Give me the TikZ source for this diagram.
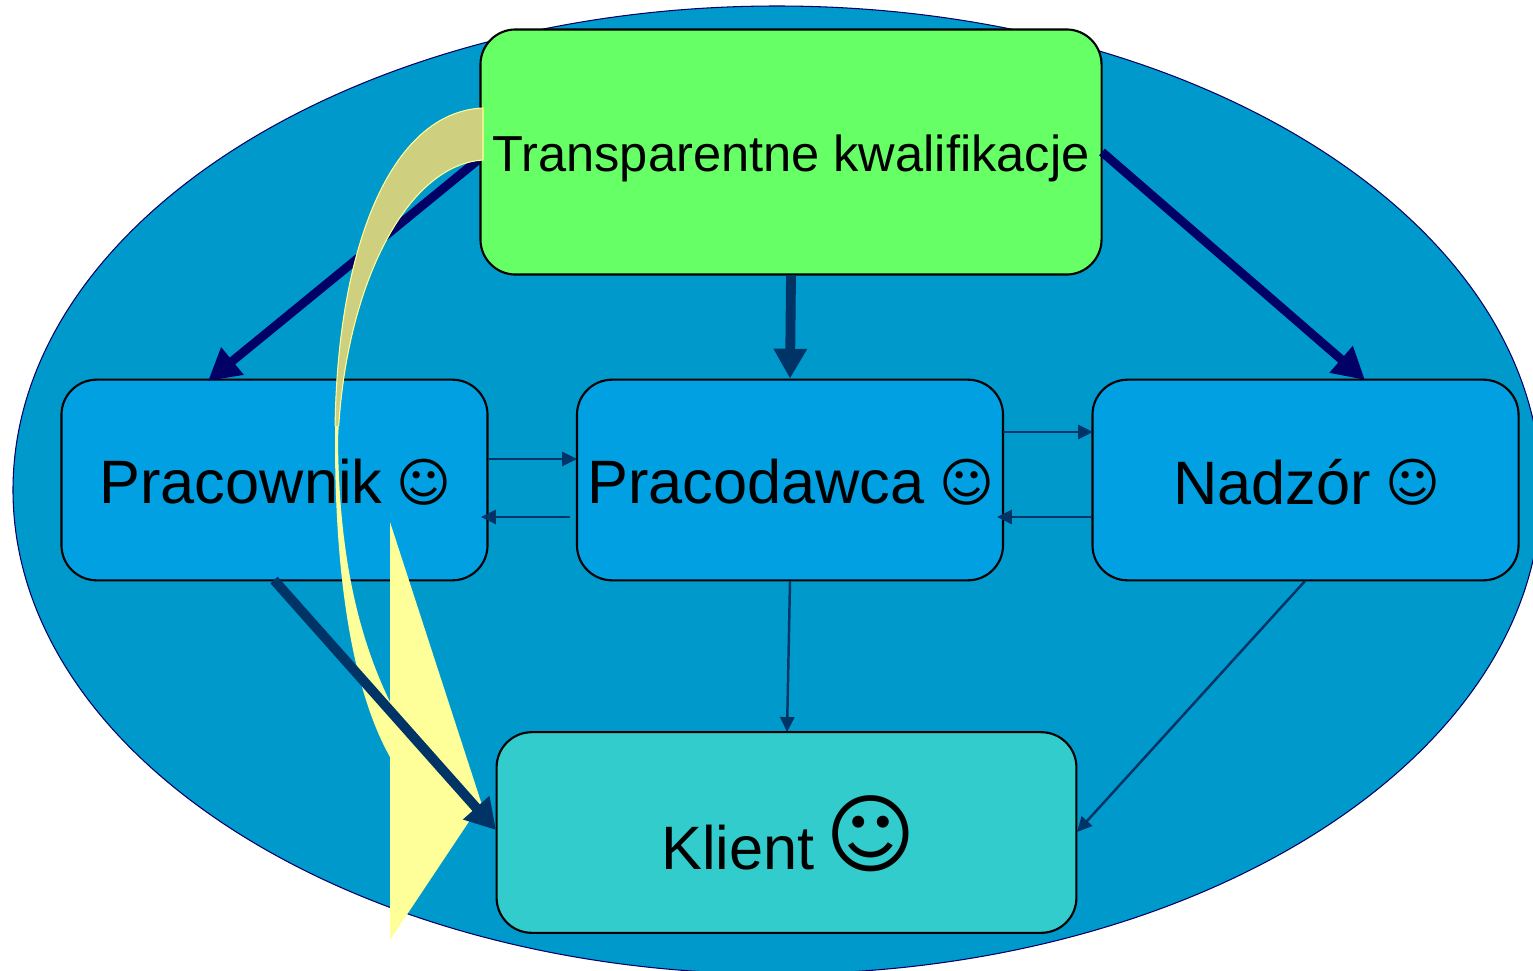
\documentclass[tikz,border=0pt]{standalone}
\usepackage{fontspec}
\setmainfont{Liberation Sans}
\newfontfamily\symfont{DejaVu Sans}
\usetikzlibrary{arrows.meta}
\definecolor{oval}{HTML}{0099CC}
\definecolor{boxblue}{HTML}{00A0E3}
\definecolor{boxgreen}{HTML}{66FF66}
\definecolor{boxteal}{HTML}{33CCCC}
\definecolor{arrnavy}{HTML}{000066}
\definecolor{arrblue}{HTML}{003366}
\definecolor{callout}{HTML}{FFFF99}
\definecolor{calloutdark}{HTML}{CFCF80}
\tikzset{
  roundbox/.style={draw=black,line width=1.2pt,rounded corners=20pt,inner sep=0pt,anchor=center},
  thinarrow/.style={draw=arrblue,line width=1.4pt,-{Triangle[length=8.5pt,width=8pt]}},
  midarrow/.style={draw=arrblue,line width=5.6pt,-{Triangle[length=17pt,width=18pt]}},
  thickarrow/.style={draw=arrblue,line width=5.6pt,-{Triangle[length=17pt,width=19pt]}},
  navyarrow/.style={draw=arrnavy,line width=5pt,-{Triangle[length=18pt,width=19pt]}},
  label60/.style={font=\fontsize{34.9pt}{40pt}\selectfont,text=black,inner sep=0pt},
  smiley/.style={font=\fontsize{30pt}{36pt}\selectfont,text=black,inner sep=0pt},
}
\newcommand{\smileyface}{{\symfont\symbol{"263A}}}
\begin{document}
\begin{tikzpicture}[x=0.02cm,y=-0.02cm]
\useasboundingbox (0,0) rectangle (1533,970);
\clip (0,0) rectangle (1533,970);
\fill[oval,draw=arrnavy,line width=0.6pt] (777,490) ellipse [x radius=764,y radius=484];
% lower boxes
\node[roundbox,fill=boxblue,minimum width=242.5pt,minimum height=114.2pt] (prac) at (274.5,480) {};
\node[roundbox,fill=boxblue,minimum width=242.5pt,minimum height=114.2pt] (pracod) at (790,480) {};
\node[roundbox,fill=boxblue,minimum width=242.5pt,minimum height=114.2pt] (nadz) at (1305.5,480) {};
\node[roundbox,fill=boxteal,minimum width=330pt,minimum height=114.2pt] (klient) at (786.5,832.5) {};
\node[roundbox,fill=boxgreen,minimum width=353.5pt,minimum height=139.5pt] (trans) at (791,152) {};
% arrows from top box
\coordinate (tl) at (478,160);
\coordinate (tr) at (1102,152);
\coordinate (pt) at (208,381);
\coordinate (nt) at (1365,380);
\draw[navyarrow] (tl) -- (pt);
\draw[navyarrow] (tr) -- (nt);
\draw[midarrow] (trans.south) -- (pracod.north);
% callout
\fill[callout] (483,108) .. controls (390,112) and (335,250) .. (335,440)
  .. controls (335,600) and (358,700) .. (390,757) -- (390,940) -- (470,820) -- (482,805) -- (390,522) -- (390,702)
  .. controls (360,640) and (339,560) .. (338,440)
  .. controls (344,290) and (405,165) .. (483,160) -- cycle;
\begin{scope}
\clip (330,100) rectangle (484,425);
\fill[calloutdark,draw=callout,line width=0.6pt] (483,108) .. controls (390,112) and (335,250) .. (335,440)
  -- (338,440) .. controls (344,290) and (405,165) .. (483,160) -- cycle;
\end{scope}
% texts
\node[label60] (t1) at (241,482) {Pracownik};
\node[smiley] (s1) at (424,482) {\smileyface};
\node[label60] (t2) at (756,482) {Pracodawca};
\node[smiley] (s2) at (967,482) {\smileyface};
\node[label60] (t3) at (1272,482) {Nadzór};
\node[smiley] (s3) at (1413,482) {\smileyface};
\node[label60] (t4) at (738,848) {Klient};
\node[smiley,font=\fontsize{49.5pt}{56pt}\selectfont] (s4) at (871,834) {\smileyface};
\node[inner sep=0pt,font=\fontsize{28.8pt}{34pt}\selectfont] (t5) at (791,158) {Transparentne kwalifikacje};
% connectors
\coordinate (a1) at (488,459); \coordinate (a2) at (577,459);
\coordinate (b1) at (570,517); \coordinate (b2) at (481,517);
\coordinate (c1) at (1003,432); \coordinate (c2) at (1093,432);
\coordinate (d1) at (1092,517); \coordinate (d2) at (997,517);
\draw[thinarrow] (a1) -- (a2);
\draw[thinarrow] (b1) -- (b2);
\draw[thinarrow] (c1) -- (c2);
\draw[thinarrow] (d1) -- (d2);
\coordinate (pb) at (274,580); \coordinate (kl) at (496,830);
\draw[thickarrow] (pb) -- (kl);
\draw[thinarrow] (pracod.south) -- (787,732);
\coordinate (nb) at (1305,581); \coordinate (kr) at (1077,832);
\draw[thinarrow] (nb) -- (kr);
\end{tikzpicture}
\end{document}
